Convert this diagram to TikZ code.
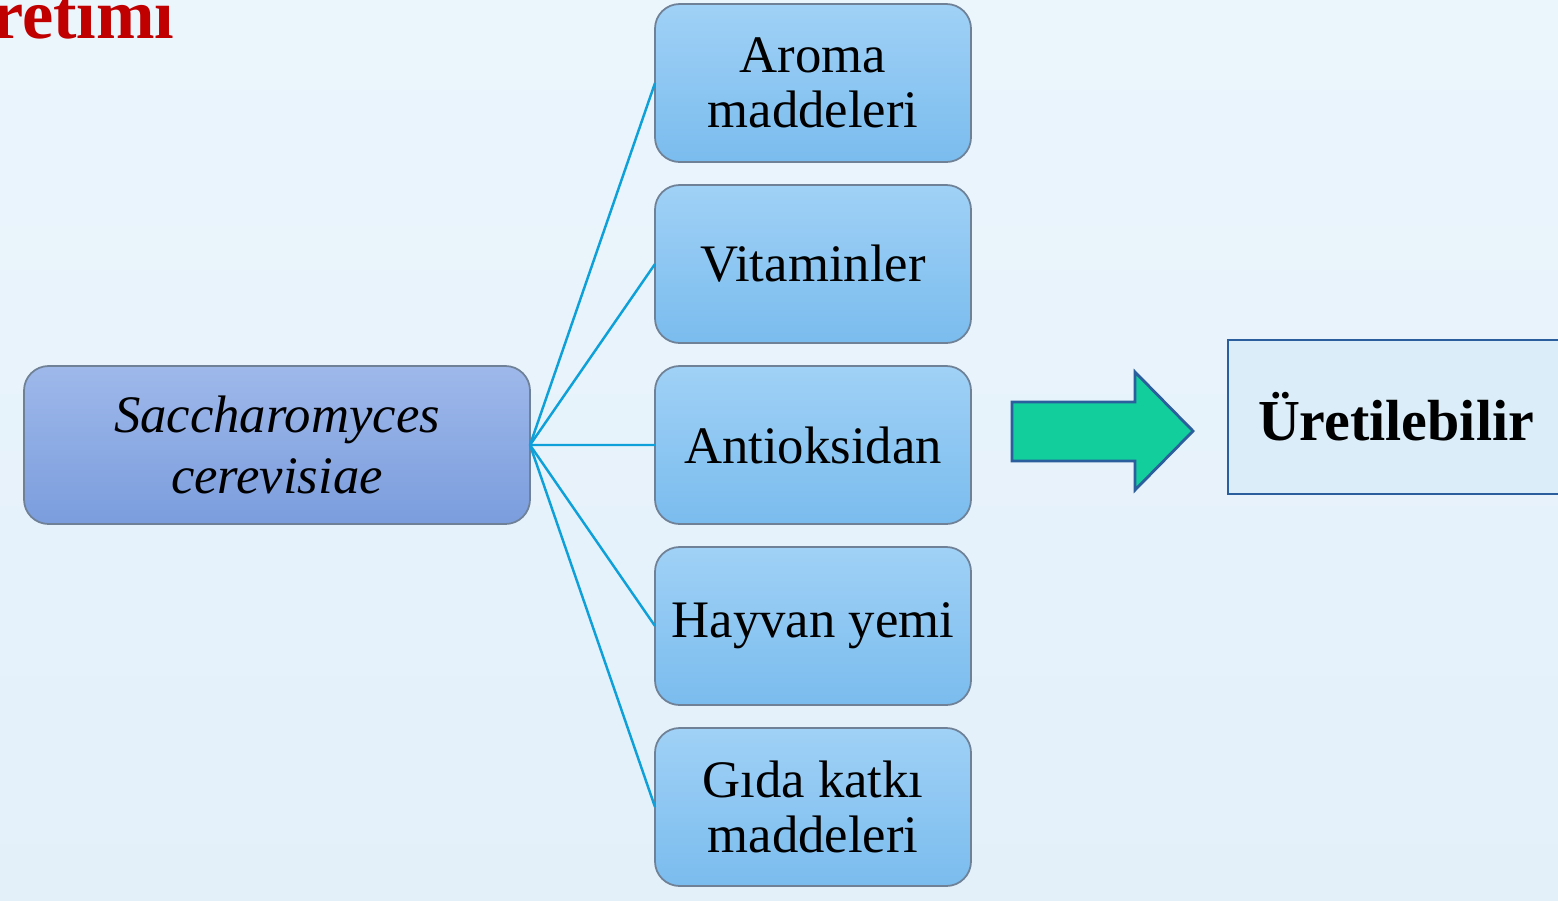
\documentclass[tikz,border=0pt]{standalone}
\usepackage{fontspec}
\setmainfont{Liberation Serif}
\usetikzlibrary{positioning}

\definecolor{bgtop}{HTML}{EBF5FC}
\definecolor{bgbot}{HTML}{E3F0FA}
\definecolor{srctop}{HTML}{9EB8EA}
\definecolor{srcbot}{HTML}{7B9DDD}
\definecolor{itemtop}{HTML}{A0D1F6}
\definecolor{itembot}{HTML}{7ABCEE}
\definecolor{boxline}{HTML}{6F8196}
\definecolor{linkblue}{HTML}{0EA0D8}
\definecolor{arrowgreen}{HTML}{12CE9C}
\definecolor{darkblue}{HTML}{2A5E9C}
\definecolor{resfill}{HTML}{DAEDF8}
\definecolor{titlered}{HTML}{C00000}

\begin{document}
\begin{tikzpicture}[node distance=0.23cm,
  item/.style={draw=boxline, line width=0.5pt, rounded corners=7pt,
    top color=itemtop, bottom color=itembot, minimum width=3.16cm,
    minimum height=1.58cm, align=center, inner sep=2pt, outer sep=0pt,
    font=\fontsize{15}{15.5}\selectfont},
  source/.style={item, top color=srctop, bottom color=srcbot,
    minimum width=5.06cm, font=\fontsize{15}{17.5}\selectfont\itshape},
  result/.style={draw=darkblue, line width=0.8pt, fill=resfill,
    minimum width=3.36cm, minimum height=1.54cm,
    font=\fontsize{16.5}{18}\selectfont\bfseries},
  link/.style={draw=linkblue, line width=0.7pt},
  bigarrow/.style={draw=darkblue, line width=0.8pt, fill=arrowgreen}]
  % background
  \shade[top color=bgtop, bottom color=bgbot] (0,0) rectangle (15.58,-9);
  \useasboundingbox (0,0) rectangle (15.58,-9);

  \node[anchor=base east, inner sep=0pt, text=titlered,
    font=\fontsize{20}{22}\selectfont\bfseries] (ttl) at (1.75,-0.38) {retımı};

  \node[source] (src) at (2.77,-4.45) {Saccharomyces\\cerevisiae};

  \node[item] (aroma) at (8.13,-0.83) {Aroma\\maddeleri};
  \node[item] (vit) [below=of aroma] {Vitaminler};
  \node[item] (anti) [below=of vit] {Antioksidan};
  \node[item] (yem) [below=of anti] {Hayvan yemi};
  \node[item] (gida) [below=of yem] {Gıda katkı\\maddeleri};

  \path[link]
    (src.east) edge (aroma.west)
    (src.east) edge (vit.west)
    (src.east) edge (anti.west)
    (src.east) edge (yem.west)
    (src.east) edge (gida.west);

  % block arrow
  \draw[bigarrow] (10.12,-4.02) -- (11.35,-4.02) -- (11.35,-3.72)
    -- (11.93,-4.31) -- (11.35,-4.90) -- (11.35,-4.61) -- (10.12,-4.61) -- cycle;

  \node[result] (res) at (13.96,-4.17) {Üretilebilir};
\end{tikzpicture}
\end{document}
